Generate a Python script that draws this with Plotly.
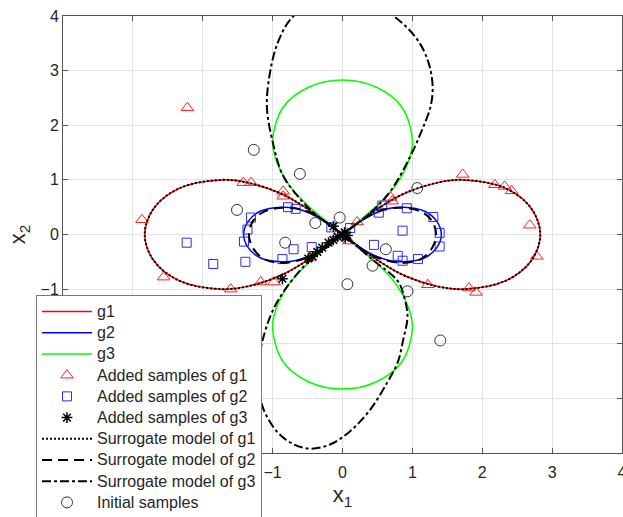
import plotly.graph_objects as go

# ---- true limit-state curves ----
g1_x = [0, 0.55, 0.90, 1.36, 1.73, 2.33, 2.70, 2.83, 2.70, 2.33, 1.73, 1.36, 0.90, 0.55,
        0, -0.55, -0.90, -1.36, -1.73, -2.33, -2.70, -2.83, -2.70, -2.33, -1.73, -1.36, -0.90, -0.55, 0]
g1_y = [0, 0.51, 0.76, 0.95, 1.00, 0.85, 0.48, 0, -0.48, -0.85, -1.00, -0.95, -0.76, -0.51,
        0, 0.51, 0.76, 0.95, 1.00, 0.85, 0.48, 0, -0.48, -0.85, -1.00, -0.95, -0.76, -0.51, 0]

g2_x = [0, 0.28, 0.45, 0.68, 0.87, 1.17, 1.35, 1.415, 1.35, 1.17, 0.87, 0.68, 0.45, 0.28,
        0, -0.28, -0.45, -0.68, -0.87, -1.17, -1.35, -1.415, -1.35, -1.17, -0.87, -0.68, -0.45, -0.28, 0]
g2_y = [0, 0.26, 0.38, 0.48, 0.50, 0.43, 0.24, 0, -0.24, -0.43, -0.50, -0.48, -0.38, -0.26,
        0, 0.26, 0.38, 0.48, 0.50, 0.43, 0.24, 0, -0.24, -0.43, -0.50, -0.48, -0.38, -0.26, 0]

g3_x = [0, 0.51, 0.76, 0.95, 1.00, 0.85, 0.48, 0, -0.48, -0.85, -1.00, -0.95, -0.76, -0.51,
        0, 0.51, 0.76, 0.95, 1.00, 0.85, 0.48, 0, -0.48, -0.85, -1.00, -0.95, -0.76, -0.51, 0]
g3_y = [0, 0.55, 0.90, 1.36, 1.73, 2.33, 2.70, 2.83, 2.70, 2.33, 1.73, 1.36, 0.90, 0.55,
        0, -0.55, -0.90, -1.36, -1.73, -2.33, -2.70, -2.83, -2.70, -2.33, -1.73, -1.36, -0.90, -0.55, 0]

# ---- surrogate model curves ----
s1_x = list(g1_x)
s1_y = list(g1_y)

s2_x = [0, 0.30, 0.54, 0.85, 1.12, 1.28, 1.34, 1.28, 1.12, 0.85, 0.54, 0.30,
        0, -0.30, -0.54, -0.85, -1.12, -1.28, -1.34, -1.28, -1.12, -0.85, -0.54, -0.30, 0]
s2_y = [0, 0.28, 0.44, 0.49, 0.42, 0.25, 0, -0.25, -0.45, -0.52, -0.44, -0.30,
        0, 0.28, 0.44, 0.49, 0.42, 0.25, 0, -0.25, -0.45, -0.52, -0.44, -0.30, 0]

s3_x = [0, 0.40, 0.69, 0.97, 1.14, 1.26, 1.29, 1.23, 1.07, 0.73, 0.30, -0.20, -0.70, -0.93,
        -1.06, -1.08, -1.00, -0.86, -0.64, -0.40,
        0, 0.43, 0.79, 0.88, 0.93, 0.87, 0.79, 0.64, 0.40, 0.11, -0.17, -0.46, -0.70, -0.93,
        -1.13, -1.20, -1.20, -1.13, -0.99, -0.79, -0.45, 0]
s3_y = [0, 0.40, 0.80, 1.43, 1.92, 2.34, 2.71, 3.15, 3.57, 4.00, 4.30, 4.35, 4.00, 3.50,
        2.78, 2.29, 1.70, 1.10, 0.70, 0.38,
        0, -0.46, -0.85, -1.13, -1.50, -1.92, -2.34, -2.71, -3.20, -3.60, -3.84, -3.92, -3.84, -3.62,
        -3.20, -2.78, -2.34, -1.87, -1.37, -0.95, -0.45, 0]

# ---- samples ----
add1_x = [-2.22, -1.42, -1.31, -0.85, -0.85, -2.87, -2.56, -1.60, -1.17, -0.98, -0.46, 0.09,
          0.21, 0.69, 0.71, 1.72, 2.18, 2.32, 2.42, 2.68, 2.78, 1.22, 1.81, 1.91]
add1_y = [2.32, 0.95, 0.95, 0.79, 0.70, 0.27, -0.78, -1.00, -0.87, -0.87, -0.42, -0.12,
          0.23, 0.68, 0.61, 1.10, 0.91, 0.88, 0.80, 0.17, -0.40, -0.92, -0.98, -1.06]

add2_x = [-2.23, -1.85, -1.39, -1.41, -1.36, -1.31, -0.78, -0.67, -0.70, -0.44, -0.86, -0.16,
          0.11, 0.57, 0.52, 0.92, 1.30, 1.39, 1.39, 0.86, 0.45, 0.79, 0.86, 1.08]
add2_y = [-0.15, -0.54, -0.50, -0.13, 0.09, 0.31, 0.50, 0.47, -0.27, -0.23, -0.45, 0.13,
          0.12, 0.53, 0.40, 0.48, 0.32, 0.03, -0.22, 0.07, -0.19, -0.39, -0.48, -0.45]

add3_x = [-0.86, -0.49, -0.43, -0.36, -0.29, -0.20, -0.13, -0.07, 0.00, 0.04, 0.07, -0.13, 0.03]
add3_y = [-0.81, -0.44, -0.40, -0.32, -0.24, -0.15, -0.10, -0.04, 0.00, -0.06, -0.02, 0.15, 0.04]

init_x = [-1.27, -0.61, -1.51, -0.39, -0.04, -0.82, 1.07, 0.62, 0.43, 0.07, 0.93, 1.40]
init_y = [1.55, 1.11, 0.45, 0.21, 0.31, -0.15, 0.85, -0.27, -0.57, -0.91, -1.04, -1.94]

tick_vals = [-4, -3, -2, -1, 0, 1, 2, 3, 4]

legend_names = ["g1", "g2", "g3", "Added samples of g1", "Added samples of g2",
                "Added samples of g3", "Surrogate model of g1", "Surrogate model of g2",
                "Surrogate model of g3", "Initial samples"]

FONT = "Arial, Liberation Sans, sans-serif"
TXT = "#262626"


def lname(s):
    return '<span style="font-size:16px">' + s + '</span>'


fig = go.Figure()
fig.add_trace(go.Scatter(x=g1_x, y=g1_y, mode="lines", name=lname(legend_names[0]),
                         line=dict(color="#ff0000", width=1.5, shape="spline")))
fig.add_trace(go.Scatter(x=g2_x, y=g2_y, mode="lines", name=lname(legend_names[1]),
                         line=dict(color="#0000ff", width=1.5, shape="spline")))
fig.add_trace(go.Scatter(x=g3_x, y=g3_y, mode="lines", name=lname(legend_names[2]),
                         line=dict(color="#00ff00", width=1.5, shape="spline")))
fig.add_trace(go.Scatter(x=add1_x, y=add1_y, mode="markers", name=lname(legend_names[3]),
                         marker=dict(symbol="triangle-up-open", size=11, color="#ff2020",
                                     line=dict(width=1))))
fig.add_trace(go.Scatter(x=add2_x, y=add2_y, mode="markers", name=lname(legend_names[4]),
                         marker=dict(symbol="square-open", size=9, color="#2b2bff",
                                     line=dict(width=1))))
fig.add_trace(go.Scatter(x=add3_x, y=add3_y, mode="markers", name=lname(legend_names[5]),
                         marker=dict(symbol="asterisk-open", size=9, color="#000000",
                                     line=dict(width=1.5, color="#000000"))))
fig.add_trace(go.Scatter(x=s1_x, y=s1_y, mode="lines", name=lname(legend_names[6]),
                         line=dict(color="#000000", width=2, dash="2px,2px", shape="spline")))
fig.add_trace(go.Scatter(x=s2_x, y=s2_y, mode="lines", name=lname(legend_names[7]),
                         line=dict(color="#000000", width=2, dash="10px,6px", shape="spline")))
fig.add_trace(go.Scatter(x=s3_x, y=s3_y, mode="lines", name=lname(legend_names[8]),
                         line=dict(color="#000000", width=2, dash="9px,3px,3px,3px", shape="spline")))
fig.add_trace(go.Scatter(x=init_x, y=init_y, mode="markers", name=lname(legend_names[9]),
                         marker=dict(symbol="circle-open", size=11, color="#333333",
                                     line=dict(width=1))))

axis_common = dict(
    tickvals=tick_vals, showgrid=True, gridcolor="#e3e3e3", gridwidth=1,
    zeroline=False, showline=True, linecolor="#555555", linewidth=1, mirror="ticks",
    ticks="inside", ticklen=5, tickcolor="#555555", ticklabeloverflow="allow",
    tickfont=dict(family=FONT, size=16, color=TXT),
)

fig.update_layout(
    width=623, height=517,
    margin=dict(l=63, r=1, t=16, b=64, autoexpand=False),
    paper_bgcolor="white", plot_bgcolor="white",
    font=dict(family=FONT, color=TXT),
    xaxis=dict(range=[-4, 4], ticklabelstandoff=5,
               title=dict(text="x<sub>1</sub>", font=dict(size=22, family=FONT, color=TXT),
                          standoff=6), **axis_common),
    yaxis=dict(range=[-4, 4],
               title=dict(text="x<sub>2</sub>", font=dict(size=22, family=FONT, color=TXT),
                          standoff=8), **axis_common),
    legend=dict(x=-0.0483, y=0.3616, xanchor="left", yanchor="top",
                bgcolor="white", bordercolor="#777777", borderwidth=1,
                font=dict(family=FONT, size=14, color=TXT), itemwidth=50,
                tracegroupgap=0),
    showlegend=True,
)

# remove the default 8px page margin so the 623x517 figure fills the window exactly
fig.write_html("out.html", config={"displayModeBar": False},
               post_script="document.body.style.margin='0';document.body.style.overflow='hidden';")
